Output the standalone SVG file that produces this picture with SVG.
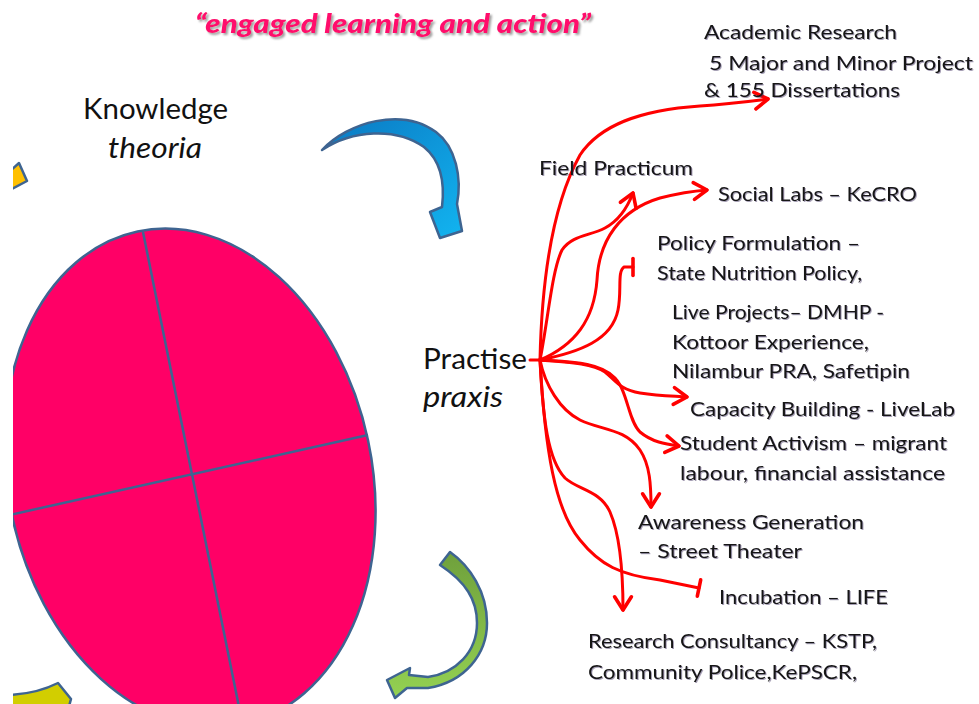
<svg xmlns="http://www.w3.org/2000/svg" width="979" height="704" viewBox="0 0 979 704">
<defs>
<style>
.lbl{font-family:Lato,"Liberation Sans",sans-serif;font-size:20px;fill:#141414;}
.big{font-family:Lato,"Liberation Sans",sans-serif;font-size:29px;fill:#111;}
.it{font-style:italic;}
.title{font-family:Lato,"Liberation Sans",sans-serif;font-size:26px;font-weight:900;font-style:italic;fill:#FF0A6C;}
.con{fill:none;stroke:#FF0000;stroke-width:3;stroke-linecap:round;stroke-linejoin:round;}
.outl{stroke:#3E6491;stroke-width:2.5;}
</style>
<marker id="arr" markerUnits="userSpaceOnUse" markerWidth="24" markerHeight="24" viewBox="-14 -10 18 20" refX="0" refY="0" orient="auto">
<path d="M-11,-7 L0,0 L-11,7" fill="none" stroke="#FF0000" stroke-width="3" stroke-linecap="round" stroke-linejoin="round"/>
</marker>
<marker id="bar" markerUnits="userSpaceOnUse" markerWidth="20" markerHeight="24" viewBox="-4 -10 8 20" refX="0" refY="0" orient="auto">
<path d="M0,-7 L0,7" fill="none" stroke="#FF0000" stroke-width="3" stroke-linecap="round"/>
</marker>
<linearGradient id="gBlue" x1="0" y1="0" x2="1" y2="1">
<stop offset="0" stop-color="#0A78C2"/>
<stop offset="1" stop-color="#12B4F0"/>
</linearGradient>
<linearGradient id="gGreen" x1="0" y1="0" x2="0" y2="1">
<stop offset="0" stop-color="#6FA03C"/>
<stop offset="1" stop-color="#94D152"/>
</linearGradient>
<filter id="tsh" x="-5%" y="-20%" width="115%" height="160%">
<feDropShadow dx="2" dy="2" stdDeviation="1" flood-color="#777" flood-opacity="0.7"/>
</filter>
<filter id="lsh" x="-5%" y="-20%" width="110%" height="150%">
<feDropShadow dx="1" dy="1" stdDeviation="0.6" flood-color="#3a2a5a" flood-opacity="0.45"/>
</filter>
<clipPath id="clipL"><rect x="13" y="0" width="966" height="704"/></clipPath>
</defs>
<rect x="0" y="0" width="979" height="704" fill="#FFFFFF"/>

<g clip-path="url(#clipL)">
<g id="wheel">
<ellipse cx="190" cy="478" rx="182" ry="252" transform="rotate(-12 190 478)" fill="#FF0066" class="outl"/>
<line x1="143" y1="232" x2="240" y2="712" class="outl"/>
<line x1="5" y1="516" x2="368" y2="435" class="outl"/>
</g>
<g id="arrow-blue">
<path d="M322,150 C348,122 402,107 436,132 C456,147 462,178 457,204 L462,231 L440,238 L430,212 L442,207 C445,182 440,160 424,147 C396,127 352,130 322,150 Z" fill="url(#gBlue)" class="outl" stroke-linejoin="round"/>
</g>
<g id="arrow-green">
<path d="M450,552 C470,566 487,592 487,623 C487,654 465,682 428,688 L407,688 L395,698 L387,680 L410,668 L409,675 L428,677 C456,673 477,652 477,623 C477,600 466,582 440,565 Z" fill="url(#gGreen)" class="outl" stroke-linejoin="round"/>
</g>
<g id="arrow-yellow">
<path d="M10,171 L19,163 L27,181 L10,190 Z" fill="#FFC000" class="outl" stroke-linejoin="round"/>
</g>
<g id="arrow-olive">
<path d="M8,695 Q36,694 58,683 L71,699 L68,710 L8,710 Z" fill="#D2CE00" class="outl" stroke-linejoin="round"/>
</g>
</g>

<g id="title" filter="url(#tsh)">
<text class="title" x="195" y="33" textLength="396" lengthAdjust="spacingAndGlyphs">“engaged learning and action”</text>
</g>

<g id="knowledge">
<text class="big" x="83" y="119" textLength="145" lengthAdjust="spacingAndGlyphs">Knowledge</text>
<text class="big it" x="108" y="158" textLength="94" lengthAdjust="spacingAndGlyphs">theoria</text>
</g>

<g id="practise">
<text class="big" x="423" y="369" textLength="104" lengthAdjust="spacingAndGlyphs">Practise</text>
<text class="big it" x="423" y="407" textLength="80" lengthAdjust="spacingAndGlyphs">praxis</text>
</g>

<g id="connectors">
<path class="con" d="M530,360 L545,360"/>
<path class="con" marker-end="url(#arr)" d="M540,360 C542,270 555,200 580,155 C600,125 640,110 700,106 C730,104 752,101 768,99"/>
<path class="con" marker-end="url(#arr)" d="M540,360 C548,320 552,270 562,250 C572,235 590,236 605,228 C620,220 628,206 633,193"/>
<path class="con" marker-end="url(#arr)" d="M540,360 C575,345 594,320 597,280 C599,240 620,210 660,198 C680,193 694,191 707,190"/>
<path class="con" marker-end="url(#bar)" d="M540,360 C580,352 612,340 618,310 C622,290 617,272 624,267 L633,267"/>
<path class="con" marker-end="url(#arr)" d="M540,360 C560,362 590,362 605,372 C615,380 620,390 640,393 C660,396 674,396 687,397"/>
<path class="con" marker-end="url(#arr)" d="M540,360 C570,362 600,362 615,378 C628,392 628,420 640,432 C652,442 665,444 679,446"/>
<path class="con" marker-end="url(#arr)" d="M540,360 C545,385 560,410 580,420 C600,430 625,428 640,450 C650,465 651,485 651,507"/>
<path class="con" marker-end="url(#bar)" d="M540,360 C545,450 555,510 580,540 C600,565 620,575 660,580 L699,588"/>
<path class="con" marker-end="url(#arr)" d="M540,360 C543,420 548,460 565,478 C578,490 600,490 610,512 C620,535 623,570 623,610"/>
</g>

<g id="n-academic" filter="url(#lsh)">
<text class="lbl" x="704" y="39" textLength="193" lengthAdjust="spacingAndGlyphs">Academic Research</text>
<text class="lbl" x="709" y="70" textLength="264" lengthAdjust="spacingAndGlyphs">5 Major and Minor Project</text>
<text class="lbl" x="704" y="97" textLength="196" lengthAdjust="spacingAndGlyphs">&amp; 155 Dissertations</text>
</g>
<g id="n-field" filter="url(#lsh)">
<text class="lbl" x="539" y="175" textLength="154" lengthAdjust="spacingAndGlyphs">Field Practicum</text>
</g>
<g id="n-social" filter="url(#lsh)">
<text class="lbl" x="718" y="201" textLength="199" lengthAdjust="spacingAndGlyphs">Social Labs – KeCRO</text>
</g>
<g id="n-policy" filter="url(#lsh)">
<text class="lbl" x="657" y="250" textLength="203" lengthAdjust="spacingAndGlyphs">Policy Formulation –</text>
<text class="lbl" x="657" y="280" textLength="205" lengthAdjust="spacingAndGlyphs">State Nutrition Policy,</text>
</g>
<g id="n-live" filter="url(#lsh)">
<text class="lbl" x="672" y="319" textLength="212" lengthAdjust="spacingAndGlyphs">Live Projects– DMHP -</text>
<text class="lbl" x="672" y="349" textLength="197" lengthAdjust="spacingAndGlyphs">Kottoor Experience,</text>
<text class="lbl" x="672" y="378" textLength="238" lengthAdjust="spacingAndGlyphs">Nilambur PRA, Safetipin</text>
</g>
<g id="n-capacity" filter="url(#lsh)">
<text class="lbl" x="690" y="416" textLength="265" lengthAdjust="spacingAndGlyphs">Capacity Building - LiveLab</text>
</g>
<g id="n-student" filter="url(#lsh)">
<text class="lbl" x="680" y="450" textLength="267" lengthAdjust="spacingAndGlyphs">Student Activism – migrant</text>
<text class="lbl" x="680" y="480" textLength="265" lengthAdjust="spacingAndGlyphs">labour, financial assistance</text>
</g>
<g id="n-awareness" filter="url(#lsh)">
<text class="lbl" x="638" y="529" textLength="226" lengthAdjust="spacingAndGlyphs">Awareness Generation</text>
<text class="lbl" x="638" y="558" textLength="164" lengthAdjust="spacingAndGlyphs">– Street Theater</text>
</g>
<g id="n-incubation" filter="url(#lsh)">
<text class="lbl" x="719" y="604" textLength="169" lengthAdjust="spacingAndGlyphs">Incubation – LIFE</text>
</g>
<g id="n-research" filter="url(#lsh)">
<text class="lbl" x="588" y="648" textLength="289" lengthAdjust="spacingAndGlyphs">Research Consultancy – KSTP,</text>
<text class="lbl" x="588" y="679" textLength="269" lengthAdjust="spacingAndGlyphs">Community Police,KePSCR,</text>
</g>
</svg>
